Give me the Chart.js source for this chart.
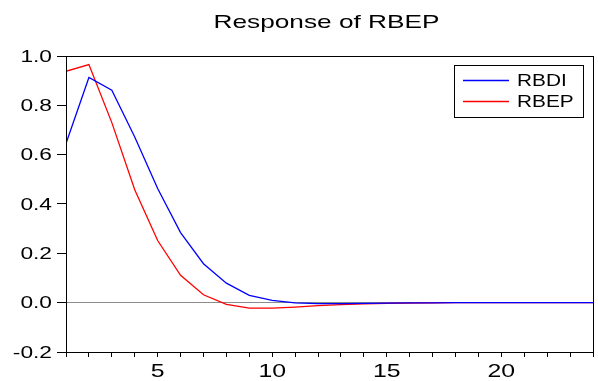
<!DOCTYPE html>
<html>
<head>
<meta charset="utf-8">
<script src="https://cdn.jsdelivr.net/npm/chart.js@4/dist/chart.umd.min.js"></script>
<style>
  html, body { margin: 0; padding: 0; background: #fff; }
  canvas { display: block; }
</style>
</head>
<body>
<canvas id="chart" width="598" height="381"></canvas>
<script>
// Impulse response horizon (periods)
const periods = [1,2,3,4,5,6,7,8,9,10,11,12,13,14,15,16,17,18,19,20,21,22,23,24];

// Response of RBEP to a shock in RBDI
const rbdi = [0.645, 0.913, 0.861, 0.672, 0.463, 0.284, 0.158, 0.079, 0.030, 0.009,
              -0.001, -0.004, -0.004, -0.003, -0.002, -0.001, -0.001, 0, 0, 0, 0, 0, 0, 0];

// Response of RBEP to its own shock
const rbep = [0.938, 0.965, 0.730, 0.458, 0.252, 0.111, 0.032, -0.007, -0.022, -0.022,
              -0.018, -0.012, -0.008, -0.005, -0.003, -0.002, -0.001, 0, 0, 0, 0, 0, 0, 0];

const seriesNames = ['RBDI', 'RBEP'];
const seriesColors = ['#0000ff', '#ff0000'];
const titleText = 'Response of RBEP';
const yTicks = [-0.2, 0.0, 0.2, 0.4, 0.6, 0.8, 1.0];
const xLabelled = [5, 10, 15, 20];

const FONT = 'Arial, "Liberation Sans", sans-serif';

// Draw text widened horizontally around its anchor
function wideText(ctx, text, x, y, size, sx, align) {
  ctx.save();
  ctx.font = size + 'px ' + FONT;
  ctx.fillStyle = '#000';
  ctx.textBaseline = 'alphabetic';
  ctx.textAlign = align;
  ctx.translate(x, y);
  ctx.scale(sx, 1);
  ctx.fillText(text, 0, 0);
  ctx.restore();
}

const framePlugin = {
  id: 'frame',
  afterDraw(chart) {
    const ctx = chart.ctx;
    const a = chart.chartArea;

    // plot frame
    ctx.save();
    ctx.strokeStyle = '#000';
    ctx.lineWidth = 1;
    ctx.strokeRect(Math.round(a.left) + 0.5, Math.round(a.top) + 0.5,
                   Math.round(a.right - a.left), Math.round(a.bottom - a.top));
    ctx.restore();

    // title
    wideText(ctx, titleText, (a.left + a.right) / 2 - 3, 28, 19, 1.38, 'center');

    // y tick labels from the y scale
    const ys = chart.scales.y;
    ys.ticks.forEach(t => {
      const py = ys.getPixelForValue(t.value);
      wideText(ctx, t.label, 52, py + 5.7, 16, 1.42, 'right');
    });

    // x tick labels from the x scale
    const xs = chart.scales.x;
    xs.ticks.forEach(t => {
      if (!t.label) return;
      const px = xs.getPixelForValue(t.value);
      wideText(ctx, String(t.label), px, 377, 18, 1.38, 'center');
    });

    // legend box
    const lx = 454, ly = 65, lw = 129, lh = 52;
    ctx.save();
    ctx.fillStyle = '#fff';
    ctx.fillRect(lx, ly, lw, lh);
    ctx.strokeStyle = '#000';
    ctx.lineWidth = 1;
    ctx.strokeRect(lx + 0.5, ly + 0.5, lw, lh);
    ctx.restore();
    chart.data.datasets.forEach((ds, i) => {
      const yy = 80.5 + i * 21;
      ctx.save();
      ctx.strokeStyle = seriesColors[i];
      ctx.lineWidth = 1.3;
      ctx.beginPath();
      ctx.moveTo(463, yy);
      ctx.lineTo(509, yy);
      ctx.stroke();
      ctx.restore();
      wideText(ctx, ds.label, 517, yy + 5.8, 16, 1.3, 'left');
    });
  }
};

new Chart(document.getElementById('chart'), {
  type: 'line',
  data: {
    datasets: [
      {
        label: seriesNames[0],
        data: periods.map((p, i) => ({ x: p, y: rbdi[i] })),
        borderColor: seriesColors[0],
        borderWidth: 1.3,
        pointRadius: 0,
        tension: 0,
        fill: false
      },
      {
        label: seriesNames[1],
        data: periods.map((p, i) => ({ x: p, y: rbep[i] })),
        borderColor: seriesColors[1],
        borderWidth: 1.3,
        pointRadius: 0,
        tension: 0,
        fill: false
      }
    ]
  },
  options: {
    responsive: false,
    animation: false,
    devicePixelRatio: 1,
    layout: { padding: { left: 0, right: 5, top: 56, bottom: 0 } },
    plugins: {
      legend: { display: false },
      title: { display: false },
      tooltip: { enabled: false }
    },
    scales: {
      x: {
        type: 'linear',
        min: periods[0],
        max: periods[periods.length - 1],
        afterFit(scale) { scale.height = 29; },
        afterBuildTicks(scale) {
          scale.ticks = periods.map(v => ({ value: v }));
        },
        ticks: {
          display: false,
          autoSkip: false,
          maxRotation: 0,
          callback: v => (xLabelled.includes(v) ? String(v) : '')
        },
        grid: {
          drawOnChartArea: false,
          drawTicks: true,
          tickLength: 5,
          tickColor: '#000',
          tickWidth: 1
        },
        border: { display: true, color: '#000', width: 1 }
      },
      y: {
        type: 'linear',
        min: yTicks[0],
        max: yTicks[yTicks.length - 1],
        afterFit(scale) { scale.width = 66; },
        afterBuildTicks(scale) {
          scale.ticks = yTicks.map(v => ({ value: v }));
        },
        ticks: {
          display: false,
          callback: v => v.toFixed(1)
        },
        grid: {
          drawOnChartArea: true,
          color: c => (c.tick && Math.abs(c.tick.value) < 1e-9 ? '#8c8c8c' : 'rgba(0,0,0,0)'),
          lineWidth: 1,
          drawTicks: true,
          tickLength: 9,
          tickColor: '#000',
          tickWidth: 1
        },
        border: { display: true, color: '#000', width: 1 }
      }
    }
  },
  plugins: [framePlugin]
});
</script>
</body>
</html>
